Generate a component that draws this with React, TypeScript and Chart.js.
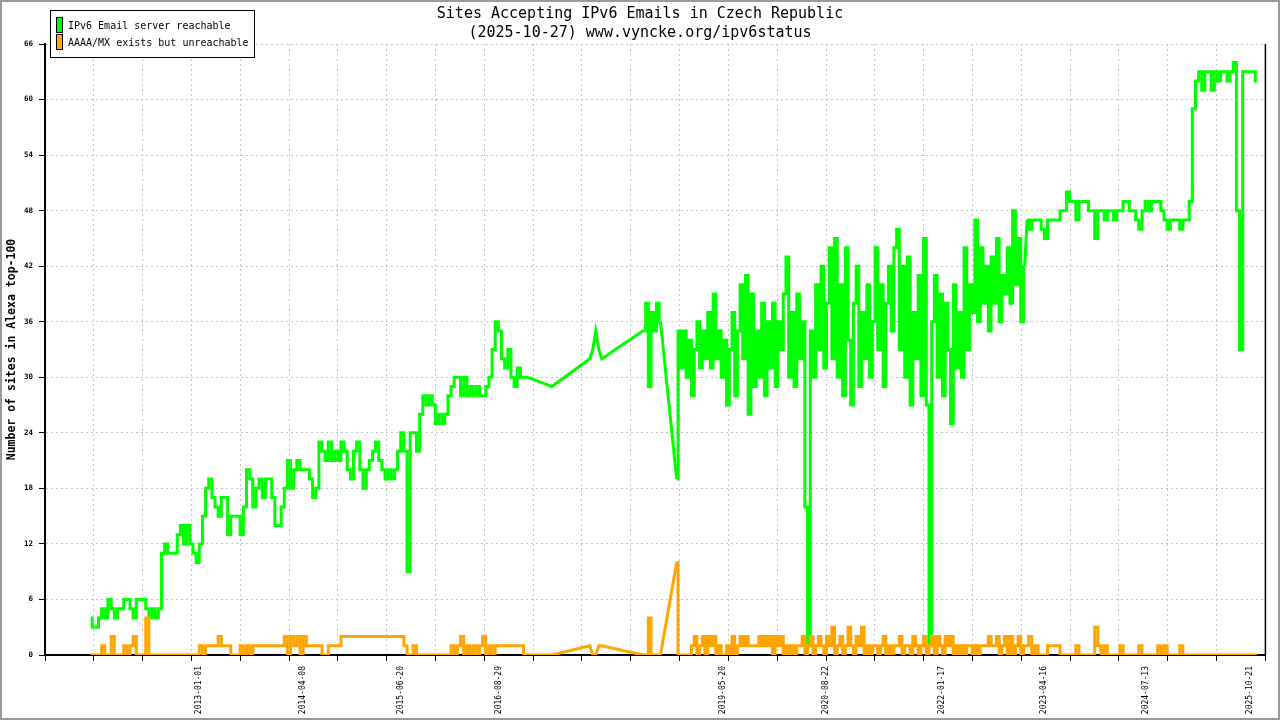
import { useEffect, useRef } from 'react';
import Chart from 'chart.js/auto';

const MONO = "'DejaVu Sans Mono', monospace";

const titleLines = ['Sites Accepting IPv6 Emails in Czech Republic', '(2025-10-27) www.vyncke.org/ipv6status'];
const legendLabels = ['IPv6 Email server reachable', 'AAAA/MX exists but unreachable'];
const seriesColors = ['#00ff00', '#ffa500'];
const yAxisTitle = 'Number of sites in Alexa top-100';

// dates printed under the x axis
const dateLabels = ['2013-01-01', '2014-04-08', '2015-06-20', '2016-08-29', '2019-05-20', '2020-08-22', '2022-01-17', '2023-04-16', '2024-07-13', '2025-10-21'];
const axisStart = '2011-02-17';
const axisEnd = '2025-12-27';

// sampled runs: start date + step in days, one value per step (null = no sample)
const runStarts = ['2011-09-08', '2018-06-05', '2023-02-01'];
const runSteps = [14, 12, 14];

const greenRun1 = [
  4, 3, 3, 4, 5, 4, 6, 5, 4, 5,
  5, 6, 6, 5, 4, 6, 6, 6, 5, 4,
  5, 4, 5, 11, 12, 11, 11, 11, 13, 14,
  12, 14, 12, 11, 10, 12, 15, 18, 19, 17,
  16, 15, 17, 17, 13, 15, 15, 15, 13, 16,
  20, 19, 16, 18, 19, 17, 19, 19, 17, 14,
  14, 16, 18, 21, 18, 20, 21, 20, 20, 20,
  19, 17, 18, 23, 22, 21, 23, 21, 22, 21,
  23, 22, 20, 19, 22, 23, 20, 18, 20, 21,
  22, 23, 21, 20, 19, 20, 19, 20, 22, 24,
  22, 9, 24, 24, 22, 26, 28, 27, 28, 27,
  25, 26, 25, 26, 28, 29, 30, 30, 28, 30,
  28, 29, 28, 29, 28, 28, 29, 30, 33, 36,
  35, 32, 31, 33, 30, 29, 31, 30, 30, 30,
];
const orangeRun1 = [
  0, 0, 0, 0, 1, 0, 0, 2, 0, 0,
  0, 1, 0, 1, 2, 0, 0, 0, 4, 0,
  0, 0, 0, 0, 0, 0, 0, 0, 0, 0,
  0, 0, 0, 0, 0, 1, 0, 1, 1, 1,
  1, 2, 1, 1, 1, 0, 0, 0, 1, 0,
  1, 0, 1, 1, 1, 1, 1, 1, 1, 1,
  1, 1, 2, 0, 2, 1, 2, 0, 2, 1,
  1, 1, 1, 1, 0, 0, 1, 1, 1, 1,
  2, 2, 2, 2, 2, 2, 2, 2, 2, 2,
  2, 2, 2, 2, 2, 2, 2, 2, 2, 2,
  1, 0, 0, 1, 0, 0, 0, 0, 0, 0,
  0, 0, 0, 0, 0, 1, 0, 1, 2, 0,
  1, 0, 1, 0, 1, 2, 0, 1, 0, 1,
  1, 1, 1, 1, 1, 1, 1, 1, 0, 0,
];

// sparse samples between 2016 and 2018
const gapDates = ['2017-04-20', '2017-10-06', '2017-10-19', '2017-11-01', '2017-11-15', '2017-11-28', '2018-05-29'];
const greenGap = [29, 32, 33, 35, 33, 32, 35];
const orangeGap = [0, 1, 0, 0, 1, 1, 0];

const greenRun2 = [
  35, 38, 29, 37, 35, 38, 36, null, null, null,
  null, null, 19, 35, 31, 35, 30, 34, 28, 33,
  36, 31, 35, 32, 37, 31, 39, 32, 35, 30,
  34, 27, 33, 37, 28, 35, 40, 32, 41, 26,
  39, 29, 35, 30, 38, 28, 36, 31, 38, 29,
  36, 33, 39, 43, 30, 37, 29, 39, 32, 36,
  16, 1, 35, 30, 40, 33, 42, 31, 38, 44,
  32, 45, 30, 40, 28, 44, 34, 27, 38, 42,
  29, 37, 32, 40, 30, 36, 44, 33, 40, 29,
  38, 42, 35, 44, 46, 33, 42, 30, 43, 27,
  37, 32, 41, 28, 45, 27, 1, 36, 41, 30,
  39, 28, 38, 33, 25, 40, 31, 37, 30, 44,
  33, 40, 37, 47, 36, 44, 38, 42, 35, 43,
  38, 45, 36, 41, 39, 44, 38, 48, 40, 45,
  36, 42,
];
const orangeRun2 = [
  0, 0, 4, 0, 0, 0, 0, null, null, null,
  null, null, 10, 0, 0, 0, 0, 0, 1, 2,
  0, 1, 2, 0, 2, 1, 2, 0, 1, 0,
  0, 1, 0, 2, 0, 1, 2, 1, 2, 1,
  1, 1, 1, 2, 1, 2, 1, 2, 0, 2,
  1, 2, 0, 1, 0, 1, 0, 1, 1, 2,
  0, 1, 2, 0, 1, 2, 1, 0, 2, 1,
  3, 0, 1, 2, 0, 1, 3, 1, 0, 2,
  1, 3, 0, 1, 0, 1, 1, 0, 1, 2,
  0, 1, 0, 1, 1, 2, 0, 1, 1, 0,
  2, 1, 0, 1, 2, 0, 1, 2, 0, 2,
  1, 0, 2, 1, 2, 0, 1, 0, 1, 0,
  1, 1, 0, 1, 0, 1, 1, 1, 2, 1,
  1, 2, 0, 1, 2, 0, 2, 0, 1, 2,
  0, 1,
];

const greenRun3 = [
  47, 46, 47, 47, 47, 46, 45, 47, 47, 47,
  47, 48, 48, 50, 49, 49, 47, 49, 49, 49,
  48, 48, 45, 48, 48, 47, 48, 48, 47, 48,
  48, 49, 49, 48, 48, 47, 46, 48, 49, 48,
  49, 49, 49, 48, 47, 46, 47, 47, 47, 46,
  47, 47, 49, 59, 62, 63, 61, 63, 63, 61,
  63, 62, 63, 63, 62, 63, 64, 48, 33, 63,
  63, 63, 63, 62,
];
const orangeRun3 = [
  1, 2, 0, 1, 0, 0, 0, 1, 1, 1,
  1, 0, 0, 0, 0, 0, 1, 0, 0, 0,
  0, 0, 3, 1, 0, 1, 0, 0, 0, 0,
  1, 0, 0, 0, 0, 0, 1, 0, 0, 0,
  0, 0, 1, 0, 1, 0, 0, 0, 0, 1,
  0, 0, 0, 0, 0, 0, 0, 0, 0, 0,
  0, 0, 0, 0, 0, 0, 0, 0, 0, 0,
  0, 0, 0, 0,
];

const DAY0 = Date.UTC(2013, 0, 1);
const toDay = (s: string) => Math.round((Date.parse(s) - DAY0) / 86400000);

type Pt = { x: number; y: number };

// dense runs are drawn stepped, the links across missing samples as straight lines
function buildPieces(runs: (number | null)[][], gap: number[]) {
  const pieces: Pt[][] = [];
  runs.forEach((vals, r) => {
    const start = toDay(runStarts[r]);
    let cur: Pt[] = [];
    vals.forEach((v, i) => {
      if (v === null) {
        if (cur.length) pieces.push(cur);
        cur = [];
      } else cur.push({ x: start + i * runSteps[r], y: v });
    });
    if (cur.length) pieces.push(cur);
  });
  const links: Pt[][] = [];
  for (let p = 0; p < pieces.length - 1; p++) {
    const a = pieces[p][pieces[p].length - 1];
    const b = pieces[p + 1][0];
    const mid = p === 0 ? gapDates.map((d, j) => ({ x: toDay(d), y: gap[j] })) : [];
    links.push([a, ...mid, b]);
  }
  return { pieces, links };
}

function makeDatasets(runs: (number | null)[][], gap: number[], color: string) {
  const { pieces, links } = buildPieces(runs, gap);
  const base = { borderColor: color, borderWidth: 3, pointRadius: 0, tension: 0 };
  return [
    ...pieces.map((data) => ({ ...base, data, stepped: 'middle' })),
    ...links.map((data) => ({ ...base, data, stepped: false })),
  ];
}

export default function App() {
  const canvasRef = useRef<HTMLCanvasElement>(null);

  useEffect(() => {
    document.body.style.margin = '0';
    if (!canvasRef.current) return;

    const xMin = toDay(axisStart);
    const xMax = toDay(axisEnd);
    const gridTicks: number[] = [];
    for (let k = 0; k <= 25; k++) gridTicks.push(xMin + (k * (xMax - xMin)) / 25);
    const labelByDay = new Map<number, string>();
    dateLabels.forEach((d) => labelByDay.set(toDay(d), d));
    const allTicks = [...gridTicks, ...labelByDay.keys()].sort((a, b) => a - b);
    const isLabel = (ctx: any) => !!ctx.tick && labelByDay.has(ctx.tick.value);

    const framePlugin = {
      id: 'frame',
      beforeDraw(chart: any) {
        const c = chart.ctx;
        c.save();
        c.fillStyle = '#ffffff';
        c.fillRect(0, 0, chart.width, chart.height);
        c.restore();
      },
      afterDraw(chart: any) {
        const c = chart.ctx;
        const area = chart.chartArea;
        c.save();
        // right edge of plot
        c.strokeStyle = '#000';
        c.lineWidth = 1.5;
        c.beginPath();
        c.moveTo(area.right, area.top);
        c.lineTo(area.right, area.bottom);
        c.stroke();

        // title
        c.fillStyle = '#000';
        c.font = `15px ${MONO}`;
        c.textAlign = 'center';
        c.textBaseline = 'middle';
        c.fillText(titleLines[0], 640, 14);
        c.fillText(titleLines[1], 640, 33);

        // legend
        c.fillStyle = '#fff';
        c.fillRect(50.5, 10.5, 204, 47);
        c.strokeStyle = '#000';
        c.lineWidth = 1;
        c.strokeRect(50.5, 10.5, 204, 47);
        c.font = `10px ${MONO}`;
        c.textAlign = 'left';
        seriesColors.forEach((col, i) => {
          const y = 17 + i * 17;
          c.fillStyle = col;
          c.fillRect(56.5, y + 0.5, 6, 15);
          c.strokeRect(56.5, y + 0.5, 6, 15);
          c.fillStyle = '#000';
          c.fillText(legendLabels[i], 68, y + 9);
        });

        // outer frame
        c.strokeStyle = '#9a9a9a';
        c.lineWidth = 2;
        c.strokeRect(1, 1, chart.width - 2, chart.height - 2);
        c.restore();
      },
    };

    const chart = new Chart(canvasRef.current, {
      type: 'line',
      data: {
        datasets: [
          ...makeDatasets([orangeRun1, orangeRun2, orangeRun3], orangeGap, seriesColors[1]),
          ...makeDatasets([greenRun1, greenRun2, greenRun3], greenGap, seriesColors[0]),
        ],
      },
      options: {
        animation: false,
        responsive: false,
        devicePixelRatio: 1,
        events: [],
        layout: { padding: { top: 44, right: 14, left: 0, bottom: 0 } },
        plugins: {
          legend: { display: false },
          title: { display: false },
          tooltip: { enabled: false },
        },
        scales: {
          x: {
            type: 'linear',
            min: xMin,
            max: xMax,
            afterBuildTicks: (scale: any) => {
              scale.ticks = allTicks.map((v) => ({ value: v }));
            },
            afterFit: (scale: any) => {
              scale.height = 65;
            },
            ticks: {
              autoSkip: false,
              minRotation: 90,
              maxRotation: 90,
              padding: 5,
              color: '#000',
              font: { family: MONO, size: 8 },
              callback: (v: any) => labelByDay.get(v) ?? '',
            },
            grid: {
              color: (ctx: any) => (isLabel(ctx) ? 'rgba(0,0,0,0)' : '#c4c4c4'),
              tickColor: (ctx: any) => (isLabel(ctx) ? 'rgba(0,0,0,0)' : '#000'),
              tickLength: 6,
              lineWidth: 1,
            },
            border: { color: '#000', width: 2, dash: [2, 3] },
          },
          y: {
            min: 0,
            max: 66,
            afterFit: (scale: any) => {
              scale.width = 45;
            },
            ticks: {
              stepSize: 6,
              color: '#000',
              padding: 6,
              font: { family: MONO, size: 7.5, weight: 'bold' },
            },
            title: {
              display: true,
              text: yAxisTitle,
              color: '#000',
              font: { family: MONO, size: 11.5, weight: 'bold' },
              padding: { top: 5, bottom: 0 },
            },
            grid: { color: '#c4c4c4', tickColor: '#000', tickLength: 6, lineWidth: 1 },
            border: { color: '#000', width: 2, dash: [2, 3] },
          },
        },
      },
      plugins: [framePlugin],
    } as any);

    return () => chart.destroy();
  }, []);

  return (
    <div style={{ width: 1280, height: 720 }}>
      <canvas ref={canvasRef} width={1280} height={720} style={{ display: 'block' }} />
    </div>
  );
}
